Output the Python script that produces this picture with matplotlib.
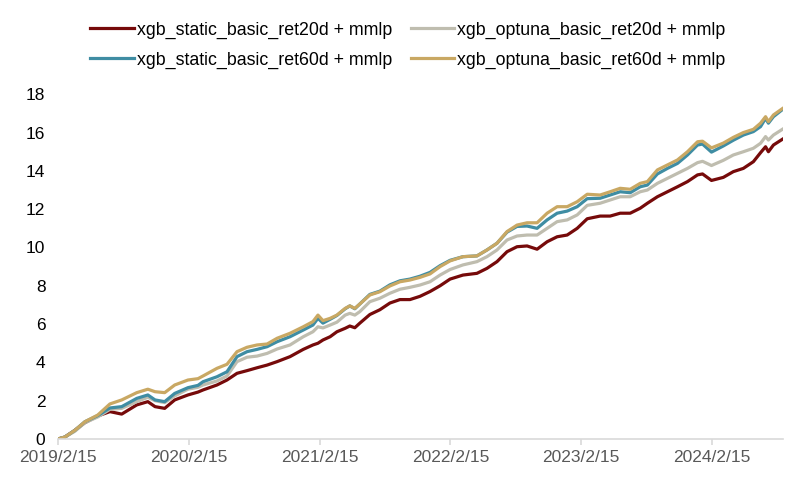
import matplotlib
matplotlib.use("Agg")
import matplotlib.pyplot as plt
import pandas as pd

plt.rcParams['font.family'] = ['Liberation Sans', 'DejaVu Sans']

dates = ["2019-02-15", "2019-03-06", "2019-04-03", "2019-05-01", "2019-06-06", "2019-07-10",
         "2019-08-12", "2019-09-23", "2019-10-24", "2019-11-13", "2019-12-10", "2020-01-07",
         "2020-02-13", "2020-03-12", "2020-03-26", "2020-05-04", "2020-06-01", "2020-06-29",
         "2020-07-27", "2020-08-24", "2020-09-21", "2020-10-19", "2020-11-24", "2020-12-31",
         "2021-01-27", "2021-02-10", "2021-02-24", "2021-03-16", "2021-04-04", "2021-04-27",
         "2021-05-10", "2021-05-24", "2021-06-07", "2021-07-05", "2021-08-02", "2021-08-30",
         "2021-09-27", "2021-10-25", "2021-11-22", "2021-12-20", "2022-01-17", "2022-02-14",
         "2022-03-22", "2022-04-30", "2022-05-28", "2022-06-25", "2022-07-23", "2022-08-20",
         "2022-09-17", "2022-10-15", "2022-11-12", "2022-12-10", "2023-01-07", "2023-02-04",
         "2023-03-04", "2023-04-09", "2023-05-07", "2023-06-04", "2023-07-02", "2023-07-30",
         "2023-08-19", "2023-09-16", "2023-10-14", "2023-11-11", "2023-12-09", "2024-01-06",
         "2024-01-20", "2024-02-14", "2024-03-18", "2024-04-15", "2024-05-13", "2024-06-10",
         "2024-06-30", "2024-07-14", "2024-07-22", "2024-08-05", "2024-08-30"]

static_ret20d = [0, 0.1, 0.45, 0.85, 1.2, 1.43, 1.3, 1.78, 1.95, 1.69, 1.6, 2.04,
                 2.3, 2.45, 2.56, 2.82, 3.08, 3.43, 3.57, 3.72, 3.86, 4.04, 4.3, 4.68,
                 4.91, 5.0, 5.17, 5.34, 5.6, 5.78, 5.9, 5.81, 6.05, 6.5, 6.75, 7.1,
                 7.28, 7.28, 7.45, 7.7, 8.0, 8.35, 8.56, 8.65, 8.91, 9.26, 9.78, 10.04,
                 10.08, 9.91, 10.3, 10.56, 10.65, 11.0, 11.5, 11.64, 11.64, 11.79, 11.79, 12.05,
                 12.31, 12.65, 12.91, 13.17, 13.44, 13.79, 13.84, 13.5, 13.66, 13.96, 14.13, 14.48,
                 14.95, 15.26, 15.0, 15.35, 15.65]

optuna_ret20d = [0, 0.1, 0.4, 0.85, 1.15, 1.55, 1.6, 1.95, 2.18, 2.0, 1.9, 2.25,
                 2.6, 2.7, 2.82, 3.03, 3.29, 4.04, 4.27, 4.33, 4.47, 4.7, 4.91, 5.34,
                 5.6, 5.86, 5.8, 5.95, 6.1, 6.47, 6.56, 6.47, 6.65, 7.17, 7.35, 7.61,
                 7.82, 7.92, 8.04, 8.21, 8.56, 8.85, 9.09, 9.26, 9.52, 9.87, 10.39, 10.6,
                 10.65, 10.65, 11.0, 11.35, 11.44, 11.7, 12.2, 12.31, 12.48, 12.65, 12.65, 12.91,
                 13.0, 13.35, 13.61, 13.87, 14.13, 14.43, 14.5, 14.28, 14.55, 14.83, 15.0, 15.18,
                 15.44, 15.79, 15.61, 15.87, 16.17]

static_ret60d = [0, 0.1, 0.45, 0.9, 1.22, 1.62, 1.69, 2.12, 2.3, 2.04, 1.95, 2.38,
                 2.68, 2.8, 2.99, 3.25, 3.51, 4.3, 4.56, 4.68, 4.82, 5.08, 5.34, 5.69,
                 5.95, 6.3, 6.05, 6.25, 6.45, 6.8, 6.95, 6.8, 7.05, 7.55, 7.72, 8.05,
                 8.26, 8.35, 8.5, 8.7, 9.05, 9.33, 9.52, 9.56, 9.87, 10.22, 10.8, 11.1,
                 11.12, 11.0, 11.44, 11.79, 11.9, 12.13, 12.55, 12.57, 12.74, 12.91, 12.86, 13.17,
                 13.26, 13.84, 14.13, 14.39, 14.83, 15.35, 15.4, 14.98, 15.3, 15.6, 15.87, 16.05,
                 16.31, 16.74, 16.49, 16.83, 17.2]

optuna_ret60d = [0, 0.1, 0.45, 0.9, 1.25, 1.83, 2.04, 2.42, 2.6, 2.47, 2.42, 2.82,
                 3.08, 3.15, 3.29, 3.69, 3.9, 4.56, 4.79, 4.91, 4.96, 5.26, 5.52, 5.86,
                 6.13, 6.47, 6.18, 6.3, 6.47, 6.82, 6.95, 6.82, 7.05, 7.52, 7.69, 7.99,
                 8.21, 8.3, 8.44, 8.62, 9.0, 9.3, 9.52, 9.56, 9.87, 10.22, 10.83, 11.17,
                 11.29, 11.29, 11.79, 12.13, 12.13, 12.39, 12.78, 12.74, 12.91, 13.09, 13.04, 13.35,
                 13.44, 14.05, 14.31, 14.57, 15.0, 15.52, 15.55, 15.2, 15.45, 15.75, 16.0, 16.17,
                 16.49, 16.83, 16.57, 16.92, 17.25]

labels = ["xgb_static_basic_ret20d + mmlp", "xgb_optuna_basic_ret20d + mmlp",
          "xgb_static_basic_ret60d + mmlp", "xgb_optuna_basic_ret60d + mmlp"]
colors = ["#760A0A", "#BFBDAF", "#3F8DA3", "#C9A863"]

xtick_labels = ["2019/2/15", "2020/2/15", "2021/2/15", "2022/2/15", "2023/2/15", "2024/2/15"]
xtick_dates = pd.to_datetime([s.replace("/", "-") for s in xtick_labels], format="%Y-%m-%d")
yticks = [0, 2, 4, 6, 8, 10, 12, 14, 16, 18]

x = pd.to_datetime(dates)
series = [static_ret20d, optuna_ret20d, static_ret60d, optuna_ret60d]

fig = plt.figure(figsize=(8.04, 4.91), dpi=100)
ax = fig.add_axes([0.0721, 0.1059, 0.9019, 0.7021])

handles = []
for vals, lab, col in zip(series, labels, colors):
    h, = ax.plot(x, vals, color=col, lw=2.3, label=lab, solid_joinstyle='round')
    handles.append(h)

ax.set_xlim(pd.Timestamp("2019-02-15"), pd.Timestamp("2024-09-01"))
ax.set_ylim(0, 18)
ax.set_yticks(yticks)
ax.set_yticklabels([str(v) for v in yticks])
ax.set_xticks(xtick_dates)
ax.set_xticklabels(xtick_labels)

for s in ["top", "right", "left"]:
    ax.spines[s].set_visible(False)
ax.spines["bottom"].set_color("#D9D9D9")
ax.spines["bottom"].set_linewidth(1.2)
ax.tick_params(axis="x", colors="#D9D9D9", length=4, width=1.2, labelcolor="#595959",
               labelsize=12.5, pad=4)
ax.tick_params(axis="y", length=0, labelcolor="#000000", labelsize=12.5, pad=9)

order = [0, 2, 1, 3]
leg = fig.legend([handles[i] for i in order], [labels[i] for i in order], ncol=2,
                 loc="upper left", bbox_to_anchor=(0.086, 1.0), frameon=False,
                 fontsize=12.8, handlelength=2.45, handletextpad=0.15, columnspacing=1.05,
                 labelspacing=0.72, borderaxespad=0.8)

fig.savefig("out.png", dpi=100)
